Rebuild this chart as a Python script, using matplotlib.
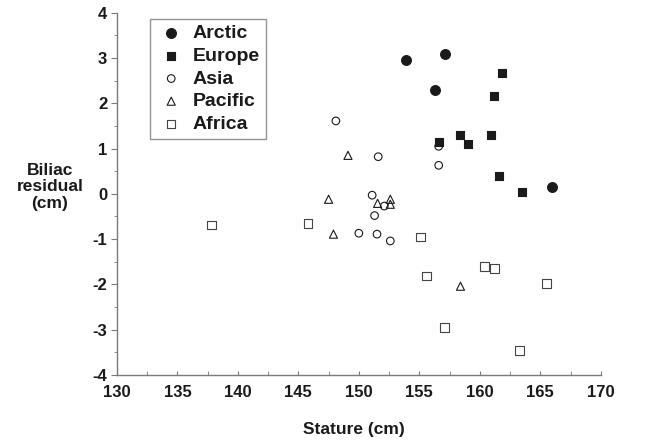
import matplotlib
matplotlib.use("Agg")
import matplotlib.pyplot as plt
from matplotlib.ticker import MultipleLocator

plt.rcParams['font.family'] = ['Liberation Sans', 'DejaVu Sans']
plt.rcParams['font.weight'] = 'bold'
plt.rcParams['axes.unicode_minus'] = False

# stature (cm) and biliac residual (cm) per population sample
arctic_x = [153.9, 157.1, 156.3, 166.0]
arctic_y = [2.95, 3.08, 2.30, 0.15]

europe_x = [161.8, 161.2, 156.6, 158.4, 159.0, 160.9, 161.6, 163.5]
europe_y = [2.67, 2.16, 1.15, 1.29, 1.10, 1.30, 0.40, 0.03]

asia_x = [148.1, 151.6, 151.1, 152.1, 151.3, 150.0, 151.5, 152.6, 156.6, 156.6]
asia_y = [1.61, 0.82, -0.03, -0.27, -0.48, -0.87, -0.89, -1.04, 1.05, 0.63]

pacific_x = [149.1, 147.5, 151.55, 152.6, 152.6, 147.9, 158.4]
pacific_y = [0.85, -0.12, -0.21, -0.12, -0.23, -0.89, -2.04]

africa_x = [137.8, 145.8, 155.1, 155.6, 160.4, 161.2, 165.5, 157.1, 163.3]
africa_y = [-0.69, -0.66, -0.95, -1.81, -1.61, -1.65, -1.98, -2.95, -3.46]

fig = plt.figure(figsize=(6.46, 4.41), dpi=100)
ax = fig.add_axes([0.181, 0.1497, 0.749, 0.8215])

axis_grey = '#7a7a7a'
ink = '#1a1a1a'

ax.scatter(arctic_x, arctic_y, s=50, marker='o', facecolor=ink, edgecolor=ink,
           linewidth=0.8, label='Arctic', zorder=3)
ax.scatter(europe_x, europe_y, s=40, marker='s', facecolor=ink, edgecolor=ink,
           linewidth=0.8, label='Europe', zorder=3)
ax.scatter(asia_x, asia_y, s=30, marker='o', facecolor='none', edgecolor=ink,
           linewidth=0.8, label='Asia', zorder=3)
ax.scatter(pacific_x, pacific_y, s=34, marker='^', facecolor='none', edgecolor=ink,
           linewidth=0.8, label='Pacific', zorder=3)
ax.scatter(africa_x, africa_y, s=38, marker='s', facecolor='none', edgecolor='#444444',
           linewidth=0.8, label='Africa', zorder=3)

ax.set_xlim(130, 170)
ax.set_ylim(-4, 4)
ax.xaxis.set_major_locator(MultipleLocator(5))
ax.xaxis.set_minor_locator(MultipleLocator(2.5))
ax.yaxis.set_major_locator(MultipleLocator(1))
ax.yaxis.set_minor_locator(MultipleLocator(0.5))

for side in ('top', 'right'):
    ax.spines[side].set_visible(False)
for side in ('left', 'bottom'):
    ax.spines[side].set_color(axis_grey)
    ax.spines[side].set_linewidth(1.0)

ax.tick_params(axis='x', which='both', direction='in', color=axis_grey, length=3,
               labelsize=12, labelcolor=ink, pad=7)
ax.tick_params(axis='y', which='both', direction='out', color=axis_grey,
               labelsize=12, labelcolor=ink, pad=3)
ax.tick_params(axis='y', which='major', length=4)
ax.tick_params(axis='y', which='minor', length=2)
for lbl in ax.get_xticklabels() + ax.get_yticklabels():
    lbl.set_fontweight('bold')

ax.set_xlabel('Stature (cm)', fontsize=12.5, fontweight='bold', color=ink)
ax.xaxis.set_label_coords(0.49, -0.129)
fig.text(50 / 646, 1 - 187 / 441, 'Biliac\nresidual\n(cm)', fontsize=12.5,
         fontweight='bold', color=ink, ha='center', va='center',
         multialignment='center', linespacing=1.12)

leg = ax.legend(loc='upper left', bbox_to_anchor=(0.068, 0.983), borderaxespad=0,
                frameon=True, fancybox=False, prop={'weight': 'bold', 'size': 14},
                handletextpad=0.3, labelspacing=0.26, borderpad=0.3,
                handlelength=1.6, scatterpoints=1)
leg.get_frame().set_edgecolor(axis_grey)
leg.get_frame().set_linewidth(1.0)
for t in leg.get_texts():
    t.set_color(ink)

fig.savefig('out.png', dpi=100)
